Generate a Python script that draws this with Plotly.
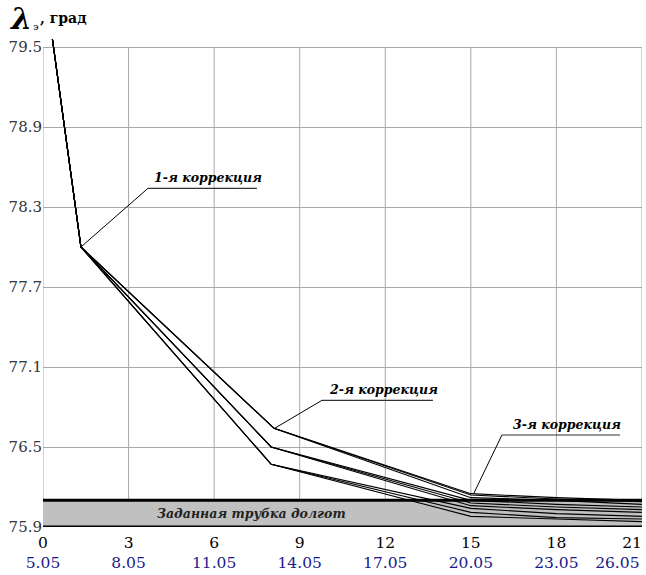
import plotly.graph_objects as go

# ---------------- data ----------------
t_common = [0.33, 1.33]
v_common = [79.56, 78.0]

# group corners at the 2nd correction
t_corr2 = [8.1, 8.0, 8.0]
v_corr2 = [76.64, 76.50, 76.37]

t_tail = [15.0, 18.0, 21.0]
tails = [
    [[76.15, 76.12, 76.10], [76.14, 76.11, 76.09], [76.12, 76.10, 76.07]],
    [[76.10, 76.07, 76.05], [76.08, 76.05, 76.03], [76.06, 76.03, 76.01]],
    [[76.04, 76.00, 75.98], [76.01, 75.97, 75.96], [75.98, 75.96, 75.94]],
]

band_low, band_high = 75.9, 76.1
x_ticks = [0, 3, 6, 9, 12, 15, 18, 21]
date_labels = ["5.05", "8.05", "11.05", "14.05", "17.05", "20.05", "23.05", "26.05"]
y_ticks = [75.9, 76.5, 77.1, 77.7, 78.3, 78.9, 79.5]

corr_labels = ["1-я коррекция", "2-я коррекция", "3-я коррекция"]
corr_points = [(1.33, 78.0), (8.12, 76.64), (15.1, 76.15)]
corr_shelves = [(3.68, 7.50, 78.44), (9.78, 13.67, 76.85), (16.09, 20.23, 76.59)]

SERIF = "DejaVu Serif"
GRID = "#a8a8a8"
X_MAX = 21.0

fig = go.Figure()

fig.add_trace(go.Scatter(x=[0, X_MAX, X_MAX, 0, 0], y=[band_low, band_low, band_high, band_high, band_low],
                         fill="toself", fillcolor="#c0c0c0", line=dict(width=0),
                         mode="lines", hoverinfo="skip", showlegend=False))

for xv in x_ticks:
    fig.add_shape(type="line", x0=xv, x1=xv, y0=y_ticks[0], y1=y_ticks[-1],
                  xref="x", yref="y", line=dict(color=GRID, width=1), layer="below")

for g in range(3):
    for tail in tails[g]:
        xs = t_common + [t_corr2[g]] + t_tail
        ys = v_common + [v_corr2[g]] + tail
        fig.add_trace(go.Scatter(x=xs, y=ys, mode="lines",
                                 line=dict(color="black", width=1.1),
                                 hoverinfo="skip", showlegend=False))

for yv in (band_low, band_high):
    fig.add_shape(type="line", x0=0, x1=X_MAX, y0=yv, y1=yv, xref="x", yref="y",
                  line=dict(color="black", width=3))

for lab, (px, py), (sx0, sx1, sy) in zip(corr_labels, corr_points, corr_shelves):
    fig.add_shape(type="line", x0=px, y0=py, x1=sx0, y1=sy, xref="x", yref="y",
                  line=dict(color="black", width=1))
    fig.add_shape(type="line", x0=sx0, y0=sy, x1=sx1, y1=sy, xref="x", yref="y",
                  line=dict(color="#333", width=1.2))
    fig.add_annotation(x=(sx0 + sx1) / 2 + 0.2, y=sy, xref="x", yref="y", yanchor="bottom",
                       text="<b><i>" + lab + "</i></b>", showarrow=False,
                       font=dict(family=SERIF, size=12.5, color="black"), yshift=1)

fig.add_annotation(x=7.3, y=(band_low + band_high) / 2, xref="x", yref="y",
                   text="<b><i>Заданная трубка долгот</i></b>", showarrow=False,
                   font=dict(family=SERIF, size=12.5, color="#222"))

fig.add_annotation(x=0, y=1, xref="paper", yref="paper", xanchor="left", yanchor="bottom",
                   text="<b><i>λ</i></b>", showarrow=False, xshift=-36, yshift=-2,
                   font=dict(family=SERIF, size=30, color="black"))
fig.add_annotation(x=0, y=1, xref="paper", yref="paper", xanchor="left", yanchor="bottom",
                   text="э", showarrow=False, xshift=-12, yshift=2,
                   font=dict(family=SERIF, size=10, color="black"))
fig.add_annotation(x=0, y=1, xref="paper", yref="paper", xanchor="left", yanchor="bottom",
                   text="<b>, град</b>", showarrow=False, xshift=-5, yshift=8,
                   font=dict(family=SERIF, size=14, color="black"))

NB = "&nbsp;"
x_text = [f"{a}<br><span style='color:#1a1a8a'>{b}</span>" for a, b in zip(x_ticks, date_labels)]
x_text[-1] = f"21{NB * 4}<br><span style='color:#1a1a8a'>26.05{NB * 10}</span>"

fig.update_layout(
    width=646, height=575,
    margin=dict(l=43, r=4, t=36, b=48, autoexpand=False),
    paper_bgcolor="white", plot_bgcolor="white",
    font=dict(family=SERIF),
    xaxis=dict(range=[0, X_MAX + 0.001], tickvals=x_ticks, ticktext=x_text, showgrid=False,
               zeroline=False, showline=False, ticks="", automargin=False,
               ticklabeloverflow="allow", ticklabelstandoff=4,
               tickfont=dict(family=SERIF, size=15.5, color="black")),
    yaxis=dict(range=[75.9, 79.5825], tickvals=y_ticks, ticktext=[f"{v:.1f}" for v in y_ticks],
               showgrid=True, gridcolor=GRID, gridwidth=1, zeroline=False, showline=False,
               ticks="", automargin=False, ticklabeloverflow="allow",
               tickfont=dict(family=SERIF, size=15, color="#333")),
)

fig.write_html("out.html")
